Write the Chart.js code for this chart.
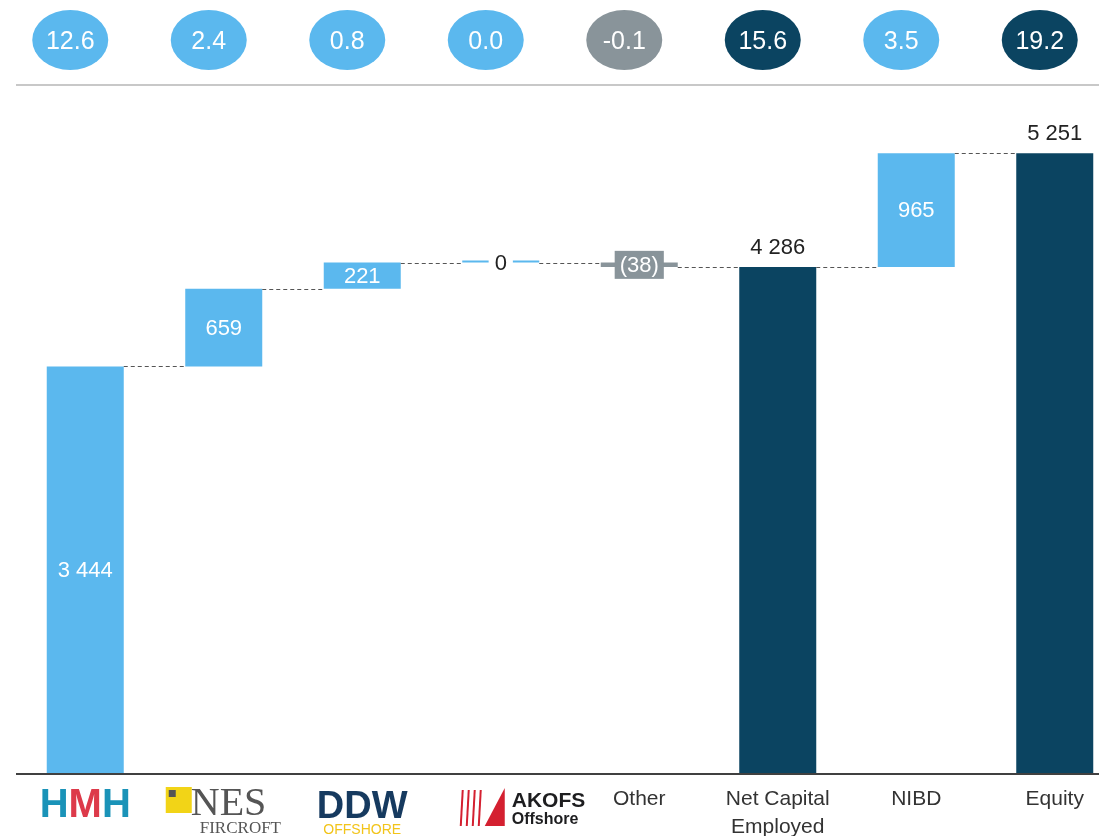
<!DOCTYPE html>
<html>
<head>
<meta charset="utf-8">
<script src="https://cdn.jsdelivr.net/npm/chart.js@4.4.0/dist/chart.umd.min.js"></script>
<style>
  html, body { margin: 0; padding: 0; background: #fff; overflow: hidden; width: 1099px; height: 836px; }
  #wrap { position: absolute; left: 0; top: 0; width: 1124px; height: 836px; }
</style>
</head>
<body>
<div id="wrap"><canvas id="myChart"></canvas></div>
<script>
// categories and values
var categories = ['HMH', 'NES Fircroft', 'DDW Offshore', 'AKOFS Offshore', 'Other', 'Net Capital Employed', 'NIBD', 'Equity'];
var changes = [3444, 659, 221, 0, -38, 4286, 965, 5251];
var isTotal = [false, false, false, false, false, true, false, true];
var pillLabels = ['12.6', '2.4', '0.8', '0.0', '-0.1', '15.6', '3.5', '19.2'];
var yMax = 5600;

var LIGHT = '#5bb8ee';
var NAVY = '#0b4461';
var GREY = '#89949a';

function colorFor(i) {
    if (isTotal[i]) return NAVY;
    if (changes[i] < 0) return GREY;
    return LIGHT;
}

function fmt(v) {
    var s = Math.abs(v).toString().replace(/\B(?=(\d{3})+(?!\d))/g, ' ');
    return v < 0 ? '(' + s + ')' : s;
}

// build floating ranges from running total
var ranges = [];
var levels = [];
var running = 0;
for (var i = 0; i < changes.length; i++) {
    if (isTotal[i]) {
        ranges.push([0, changes[i]]);
        running = changes[i];
    } else {
        ranges.push([running, running + changes[i]]);
        running += changes[i];
    }
    levels.push(running);
}

var FONT = '"Liberation Sans", Arial, sans-serif';

function drawLogo(ctx, i, x) {
    var y = 806;
    ctx.save();
    if (i === 0) {
        ctx.font = 'bold 40px ' + FONT;
        ctx.textBaseline = 'middle';
        ctx.textAlign = 'left';
        var w1 = ctx.measureText('H').width;
        var w2 = ctx.measureText('M').width;
        var start = x - (2 * w1 + w2) / 2;
        ctx.fillStyle = '#1a93b8';
        ctx.fillText('H', start, y);
        ctx.fillStyle = '#dd3a4a';
        ctx.fillText('M', start + w1, y);
        ctx.fillStyle = '#1a93b8';
        ctx.fillText('H', start + w1 + w2, y);
    } else if (i === 1) {
        ctx.fillStyle = '#f2d417';
        ctx.fillRect(x - 58, 787, 26, 26);
        ctx.fillStyle = '#555';
        ctx.fillRect(x - 55, 790, 7, 7);
        ctx.fillStyle = '#555';
        ctx.textBaseline = 'alphabetic';
        ctx.textAlign = 'left';
        ctx.font = '40px "Liberation Serif", "DejaVu Serif", serif';
        ctx.fillText('NES', x - 33, 815);
        ctx.font = '17px "Liberation Serif", "DejaVu Serif", serif';
        ctx.fillText('FIRCROFT', x - 24, 833);
    } else if (i === 2) {
        ctx.textAlign = 'center';
        ctx.textBaseline = 'alphabetic';
        ctx.fillStyle = '#163a5f';
        ctx.font = 'bold 38px ' + FONT;
        ctx.fillText('DDW', x, 818);
        ctx.fillStyle = '#f2c41a';
        ctx.font = '14px ' + FONT;
        ctx.fillText('OFFSHORE', x, 834);
    } else if (i === 3) {
        ctx.strokeStyle = '#d42030';
        ctx.lineWidth = 2;
        var bx = x - 40;
        for (var k = 0; k < 4; k++) {
            ctx.beginPath();
            ctx.moveTo(bx + k * 6, 826);
            ctx.lineTo(bx + k * 6 + 2, 790);
            ctx.stroke();
        }
        ctx.fillStyle = '#d42030';
        ctx.beginPath();
        ctx.moveTo(bx + 24, 826);
        ctx.lineTo(bx + 44, 788);
        ctx.lineTo(bx + 44, 826);
        ctx.closePath();
        ctx.fill();
        ctx.fillStyle = '#1d1d1f';
        ctx.textAlign = 'left';
        ctx.textBaseline = 'alphabetic';
        ctx.font = 'bold 21px ' + FONT;
        ctx.fillText('AKOFS', x + 11, 807);
        ctx.font = 'bold 16px ' + FONT;
        ctx.fillText('Offshore', x + 11, 824);
    }
    ctx.restore();
}

var waterfallPlugin = {
    id: 'waterfall',
    afterDatasetsDraw: function (chart) {
        var ctx = chart.ctx;
        var xs = chart.scales.x;
        var ys = chart.scales.y;
        var meta = chart.getDatasetMeta(0);
        var W = chart.width;

        // connectors
        ctx.save();
        ctx.strokeStyle = '#555';
        ctx.lineWidth = 1;
        ctx.setLineDash([4, 3]);
        for (var i = 0; i < levels.length - 1; i++) {
            var b = meta.data[i];
            var n = meta.data[i + 1];
            var yy = Math.round(ys.getPixelForValue(levels[i])) + 0.5;
            ctx.beginPath();
            ctx.moveTo(b.x + b.width / 2, yy);
            ctx.lineTo(n.x - n.width / 2, yy);
            ctx.stroke();
        }
        ctx.restore();

        // value labels
        ctx.save();
        ctx.font = '22px ' + FONT;
        ctx.textAlign = 'center';
        ctx.textBaseline = 'middle';
        for (var j = 0; j < changes.length; j++) {
            var el = meta.data[j];
            var txt = fmt(changes[j]);
            var top = ys.getPixelForValue(Math.max(ranges[j][0], ranges[j][1]));
            var bot = ys.getPixelForValue(Math.min(ranges[j][0], ranges[j][1]));
            if (isTotal[j]) {
                ctx.fillStyle = '#222';
                ctx.fillText(txt, el.x, top - 19);
            } else if (changes[j] === 0) {
                var tw = ctx.measureText(txt).width + 12;
                ctx.fillStyle = '#fff';
                ctx.fillRect(el.x - tw / 2, top - 13, tw, 26);
                ctx.fillStyle = '#222';
                ctx.fillText(txt, el.x, top + 1);
            } else if (bot - top < 24) {
                var tw2 = ctx.measureText(txt).width + 10;
                var cy = (top + bot) / 2;
                ctx.fillStyle = colorFor(j);
                ctx.fillRect(el.x - tw2 / 2, cy - 14, tw2, 28);
                ctx.fillStyle = '#fff';
                ctx.fillText(txt, el.x, cy + 1);
            } else {
                ctx.fillStyle = '#fff';
                ctx.fillText(txt, el.x, (top + bot) / 2 + 1);
            }
        }
        ctx.restore();

        // x axis line
        ctx.save();
        ctx.strokeStyle = '#404040';
        ctx.lineWidth = 2;
        ctx.beginPath();
        ctx.moveTo(16, ys.getPixelForValue(0) + 1);
        ctx.lineTo(W, ys.getPixelForValue(0) + 1);
        ctx.stroke();

        // top rule
        ctx.strokeStyle = '#c8c8c8';
        ctx.lineWidth = 2;
        ctx.beginPath();
        ctx.moveTo(16, 85);
        ctx.lineTo(W, 85);
        ctx.stroke();
        ctx.restore();

        // pills
        ctx.save();
        ctx.font = '25px ' + FONT;
        ctx.textAlign = 'center';
        ctx.textBaseline = 'middle';
        for (var p = 0; p < pillLabels.length; p++) {
            var px = xs.getPixelForValue(p) - 15;
            ctx.fillStyle = colorFor(p);
            ctx.beginPath();
            ctx.ellipse(px, 40, 38, 30, 0, 0, Math.PI * 2);
            ctx.fill();
            ctx.fillStyle = '#fff';
            ctx.fillText(pillLabels[p], px, 42);
        }
        ctx.restore();

        // category labels
        ctx.save();
        ctx.font = '21px ' + FONT;
        ctx.fillStyle = '#333';
        ctx.textAlign = 'center';
        ctx.textBaseline = 'middle';
        for (var c = 0; c < categories.length; c++) {
            var cx = xs.getPixelForValue(c);
            if (c < 4) {
                drawLogo(ctx, c, cx);
            } else if (c === 5) {
                ctx.fillText('Net Capital', cx, 799);
                ctx.fillText('Employed', cx, 827);
            } else {
                ctx.fillText(categories[c], cx, 799);
            }
        }
        ctx.restore();
    }
};

var ctx = document.getElementById('myChart');
var myChart = new Chart(ctx, {
    type: 'bar',
    data: {
        labels: categories,
        datasets: [{
            data: ranges,
            backgroundColor: categories.map(function (c, i) { return colorFor(i); }),
            borderWidth: 0,
            borderSkipped: false,
            minBarLength: 2,
            barPercentage: 0.556,
            categoryPercentage: 1.0
        }]
    },
    options: {
        responsive: true,
        maintainAspectRatio: false,
        animation: false,
        layout: { padding: { left: 16, right: 0, top: 112, bottom: 63 } },
        plugins: {
            legend: { display: false },
            tooltip: { enabled: false }
        },
        scales: {
            x: { display: false },
            y: { display: false, min: 0, max: yMax }
        }
    },
    plugins: [waterfallPlugin]
});
</script>
</body>
</html>
